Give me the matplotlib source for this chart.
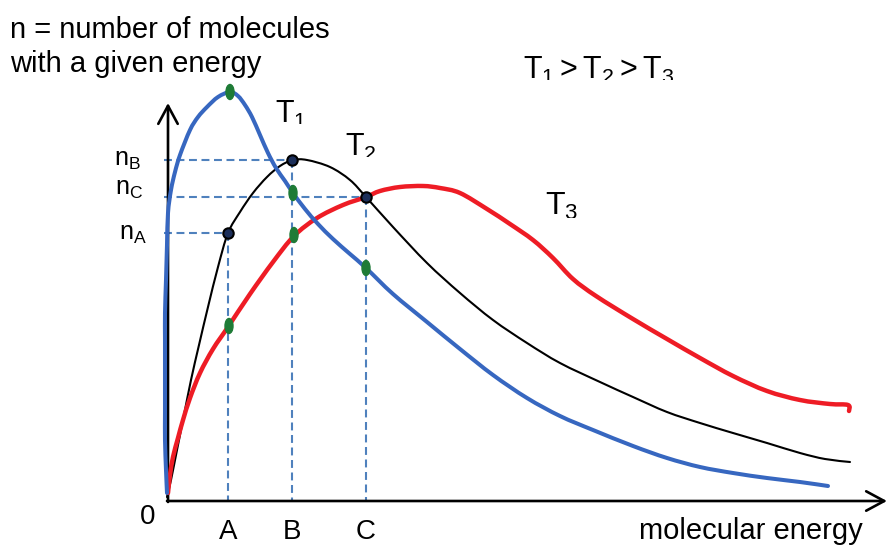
import matplotlib
matplotlib.use("Agg")
import matplotlib.pyplot as plt
from matplotlib.patches import Ellipse, Rectangle, PathPatch
from matplotlib.path import Path

plt.rcParams['font.family'] = ['Liberation Sans', 'DejaVu Sans']
plt.rcParams['mathtext.fontset'] = 'custom'
plt.rcParams['mathtext.rm'] = 'Liberation Sans'
plt.rcParams['mathtext.it'] = 'Liberation Sans:italic'

# Sketched distribution curves, (energy, n), origin at the axes corner
t1_energy = [-1, -2, -3, -3, -3, -3, -3, -2, -1, 0, 3, 7, 12, 22, 30, 39, 50, 62, 70, 77,
             84, 92, 100, 108, 117, 125, 137, 150, 165, 182, 198, 225, 259, 292, 325,
             359, 392, 425, 465, 499, 532, 565, 599, 632, 660]
t1_n = [8, 31, 61, 88, 121, 161, 188, 221, 256, 288, 311, 329, 346, 371, 384, 394, 404, 409,
        405, 396, 384, 366, 348, 333, 320, 308, 292, 277, 262, 247, 233, 207, 179, 152,
        126, 103, 85, 71, 55, 43, 34, 28, 23, 19, 15]

t2_energy = [-1, 3, 9, 16, 23, 31, 40, 50, 60, 72, 85, 99, 112, 125, 139, 162, 182, 198,
             225, 259, 292, 325, 359, 392, 432, 465, 499, 532, 565, 599, 632, 657, 682]
t2_n = [4, 21, 51, 86, 121, 156, 194, 234, 268, 289, 308, 324, 335, 341, 341, 334, 321, 304,
        274, 238, 208, 181, 158, 138, 119, 104, 89, 78, 68, 58, 48, 42, 39]

t3_energy = [0, 2, 5, 10, 15, 22, 32, 45, 60, 82, 105, 126, 149, 175, 198, 212, 232, 255,
             272, 292, 319, 342, 365, 385, 405, 428, 465, 499, 532, 565, 599, 632, 662,
             680, 681]
t3_n = [8, 26, 44, 63, 81, 103, 128, 152, 174, 207, 239, 265, 283, 296, 304, 310, 314, 315,
        313, 308, 292, 277, 261, 243, 222, 205, 182, 162, 143, 125, 110, 101, 97, 96, 90]

# Marked energies A, B, C and the matching n on the T2 curve
mark_labels = ['A', 'B', 'C']
mark_energy = [60, 124, 198]
mark_n = [268, 341, 304]
n_labels = [r'$\mathregular{n_A}$', r'$\mathregular{n_B}$', r'$\mathregular{n_C}$']

# Green ticks where T1 / T3 meet the A, B, C lines
green_energy = [62, 125, 198, 126, 61]
green_n = [409, 308, 233, 266, 175]

BLUE = '#3767c0'
RED = '#ee1c25'
DASH = '#4f81bd'
GREEN = '#1e7b36'


def smooth_path(xs, ys):
    """Catmull-Rom through the read points, drawn as cubic bezier segments."""
    pts = list(zip(xs, ys))
    verts = [pts[0]]
    codes = [Path.MOVETO]
    for i in range(len(pts) - 1):
        p0 = pts[i - 1] if i > 0 else pts[i]
        p1 = pts[i]
        p2 = pts[i + 1]
        p3 = pts[i + 2] if i + 2 < len(pts) else pts[i + 1]
        c1 = (p1[0] + (p2[0] - p0[0]) / 6, p1[1] + (p2[1] - p0[1]) / 6)
        c2 = (p2[0] - (p3[0] - p1[0]) / 6, p2[1] - (p3[1] - p1[1]) / 6)
        verts += [c1, c2, p2]
        codes += [Path.CURVE4] * 3
    return Path(verts, codes)


fig = plt.figure(figsize=(8.89, 5.48), dpi=100)
ax = fig.add_axes([0, 0, 1, 1])
ax.set_xlim(-168, 721)
ax.set_ylim(-47, 501)
ax.axis('off')

# dashed guide lines
for e, n in zip(mark_energy, mark_n):
    ax.plot([-4, e], [n, n], color=DASH, lw=1.5, ls=(0, (3.8, 2.2)), zorder=1)
    ax.plot([e, e], [n, 0], color=DASH, lw=1.5, ls=(0, (3.8, 2.2)), zorder=1)

# axes with open arrow heads
arrow = dict(arrowstyle='->,head_length=0.65,head_width=0.35', lw=1.9, color='black',
             mutation_scale=20, shrinkA=0, shrinkB=0)
ax.annotate('', xy=(0, 398), xytext=(0, -1), arrowprops=arrow, zorder=2)
ax.annotate('', xy=(719, 0), xytext=(-1, 0), arrowprops=arrow, zorder=2)

# curves
curves = [
    (t2_energy, t2_n, 'black', 1.5, 3),
    (t3_energy, t3_n, RED, 3.2, 4),
    (t1_energy, t1_n, BLUE, 2.9, 5),
]
for xs, ys, col, lw, z in curves:
    ax.add_patch(PathPatch(smooth_path(xs, ys), fill=False, edgecolor=col, lw=lw,
                           capstyle='round', joinstyle='round', zorder=z))

# points on T2
ax.plot(mark_energy, mark_n, 'o', ms=7.5, mfc='#1c2f5a', mec='black', mew=1.5, zorder=6)

for e, n in zip(green_energy, green_n):
    ax.add_patch(Ellipse((e, n), 8, 15, color=GREEN, zorder=7))

# text
ax.text(-158, 463, 'n = number of molecules', fontsize=21, va='baseline')
ax.text(-158, 429, 'with a given energy', fontsize=21, va='baseline')

ax.text(-20, -16, '0', fontsize=20, ha='center', va='center')
for e, lab in zip(mark_energy, mark_labels):
    ax.text(e, -38, lab, fontsize=20, ha='center', va='baseline')
ax.text(583, -38, 'molecular energy', fontsize=21, ha='center', va='baseline')

n_pos = [(-21, 261), (-27, 335), (-25, 306)]
for (x, y), lab in zip(n_pos, n_labels):
    ax.text(x, y, lab, fontsize=18, ha='right', va='baseline')

# temperature labels, cut off at the bottom like the original text boxes
t_labels = [
    (107, 378, 377, 22, r'$\mathregular{T_1}$'),
    (177, 345, 344, 22, r'$\mathregular{T_2}$'),
    (377, 286, 283, 23, r'$\mathregular{T_3}$'),
    (355, 422, 421, 22, r'$\mathregular{T_1 > T_2 > T_3}$'),
]
for x, y, clip_y, fs, lab in t_labels:
    t = ax.text(x, y, lab, fontsize=fs, ha='left', va='baseline')
    t.set_clip_on(True)
    t.set_clip_path(Rectangle((x - 20, clip_y), 300, 100, transform=ax.transData))

fig.savefig('out.png', dpi=100)
